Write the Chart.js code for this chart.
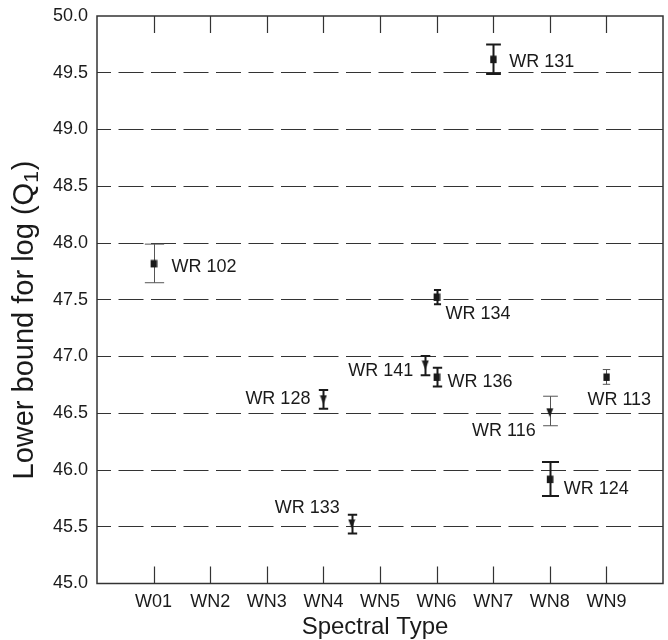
<!DOCTYPE html>
<html>
<head>
<meta charset="utf-8">
<script src="https://cdn.jsdelivr.net/npm/chart.js@4"></script>
<style>
  html, body { margin: 0; padding: 0; background: #fff; }
  #wrap { width: 668px; height: 640px; position: relative; }
</style>
</head>
<body>
<div id="wrap"><canvas id="chart"></canvas></div>
<script>
// spectral types along the x axis (placed at 1..9)
const categories = ['W01', 'WN2', 'WN3', 'WN4', 'WN5', 'WN6', 'WN7', 'WN8', 'WN9'];
const yTicks = [45.0, 45.5, 46.0, 46.5, 47.0, 47.5, 48.0, 48.5, 49.0, 49.5, 50.0];

// stars with a measured value (square markers)
const measNames = ['WR 102', 'WR 134', 'WR 136', 'WR 131', 'WR 124', 'WR 113'];
const measType  = [1, 6, 6, 7, 8, 9];
const measQ     = [47.82, 47.525, 46.82, 49.62, 45.92, 46.82];
const measLow   = [47.65, 47.46, 46.735, 49.49, 45.77, 46.755];
const measHigh  = [47.99, 47.585, 46.90, 49.75, 46.07, 46.885];

// stars with only a limit (down triangles)
const limNames = ['WR 128', 'WR 133', 'WR 141', 'WR 116'];
const limType  = [4, 4.5, 5.8, 8];
const limQ     = [46.62, 45.525, 46.925, 46.505];
const limLow   = [46.54, 45.44, 46.835, 46.39];
const limHigh  = [46.705, 45.605, 47.005, 46.65];

// ---- styling ----
const INK = '#1a1a1a';
const FONT = '"Liberation Sans", Arial, sans-serif';
Chart.defaults.font.family = FONT;
Chart.defaults.color = INK;

const thinBars = ['WR 102', 'WR 113', 'WR 116'];

const labelPlacement = {
  'WR 102': { dx: 18,  dy: 2,   align: 'left' },
  'WR 134': { dx: 9,   dy: 16,  align: 'left' },
  'WR 136': { dx: 11,  dy: 4,   align: 'left' },
  'WR 131': { dx: 16,  dy: 1,   align: 'left' },
  'WR 124': { dx: 14,  dy: 8,   align: 'left' },
  'WR 113': { dx: -19, dy: 22,  align: 'left' },
  'WR 128': { dx: -13, dy: -2,  align: 'right' },
  'WR 133': { dx: -12, dy: -17, align: 'right' },
  'WR 141': { dx: -12, dy: 4,   align: 'right' },
  'WR 116': { dx: -14, dy: 17,  align: 'right' }
};

function markerCanvas(kind) {
  const c = document.createElement('canvas');
  c.width = 8; c.height = 10;
  const g = c.getContext('2d');
  g.fillStyle = INK;
  if (kind === 'square') {
    g.fillRect(1, 1.5, 6.5, 7.5);
  } else {
    g.beginPath();
    g.moveTo(0.5, 0.5);
    g.lineTo(7.5, 0.5);
    g.lineTo(4, 9.5);
    g.closePath();
    g.fill();
  }
  return c;
}

function toPoints(names, xs, ys, lo, hi) {
  return names.map((n, i) => ({ x: xs[i], y: ys[i], name: n, lo: lo[i], hi: hi[i] }));
}

const errorBars = {
  id: 'errorBars',
  beforeDatasetsDraw(chart) {
    const { ctx, scales: { x, y } } = chart;
    ctx.save();
    chart.data.datasets.forEach(ds => {
      ds.data.forEach(p => {
        const px = Math.round(x.getPixelForValue(p.x)) + 0.5;
        const top = y.getPixelForValue(p.hi);
        const bot = y.getPixelForValue(p.lo);
        const half = Math.max(3, (bot - top) / 4);
        const thin = thinBars.includes(p.name);
        ctx.lineWidth = thin ? 1 : 2;
        ctx.strokeStyle = thin ? '#555' : INK;
        ctx.beginPath();
        ctx.moveTo(px, top); ctx.lineTo(px, bot);
        ctx.moveTo(px - half, top); ctx.lineTo(px + half, top);
        ctx.moveTo(px - half, bot); ctx.lineTo(px + half, bot);
        ctx.stroke();
      });
    });
    ctx.restore();
  },
  afterDatasetsDraw(chart) {
    const { ctx, scales: { x, y } } = chart;
    ctx.save();
    ctx.font = '18px ' + FONT;
    ctx.fillStyle = INK;
    ctx.textBaseline = 'alphabetic';
    chart.data.datasets.forEach(ds => {
      ds.data.forEach(p => {
        const pl = labelPlacement[p.name];
        ctx.textAlign = pl.align;
        ctx.fillText(p.name, x.getPixelForValue(p.x) + pl.dx, y.getPixelForValue(p.y) + pl.dy + 6.5);
      });
    });
    ctx.restore();
  }
};

// box around the plot, inward tick marks and axis titles
const frame = {
  id: 'frame',
  afterDraw(chart) {
    const { ctx, chartArea: a, scales: { x } } = chart;
    ctx.save();
    ctx.strokeStyle = '#333';
    ctx.lineWidth = 1.5;
    ctx.strokeRect(a.left, a.top, a.right - a.left, a.bottom - a.top);
    ctx.lineWidth = 1.2;
    ctx.beginPath();
    categories.forEach((c, i) => {
      const px = Math.round(x.getPixelForValue(i + 1)) + 0.5;
      ctx.moveTo(px, a.top); ctx.lineTo(px, a.top + 17);
      ctx.moveTo(px, a.bottom); ctx.lineTo(px, a.bottom - 17);
    });
    ctx.stroke();

    ctx.fillStyle = INK;
    ctx.font = '24px ' + FONT;
    ctx.textAlign = 'center';
    ctx.textBaseline = 'alphabetic';
    ctx.fillText('Spectral Type', (a.left + a.right) / 2 - 5, 634);

    // rotated y title with subscript
    ctx.translate(33, 320);
    ctx.rotate(-Math.PI / 2);
    ctx.textAlign = 'left';
    const main = 'Lower bound for log (Q';
    ctx.font = '29px ' + FONT;
    const w1 = ctx.measureText(main).width;
    const w3 = ctx.measureText(')').width;
    ctx.font = '21px ' + FONT;
    const w2 = ctx.measureText('1').width;
    let sx = -(w1 + w2 + w3 + 1) / 2;
    ctx.font = '29px ' + FONT;
    ctx.fillText(main, sx, 0);
    sx += w1;
    ctx.font = '21px ' + FONT;
    ctx.fillText('1', sx, 5);
    sx += w2 + 1;
    ctx.font = '29px ' + FONT;
    ctx.fillText(')', sx, 0);
    ctx.restore();
  }
};

new Chart(document.getElementById('chart'), {
  type: 'scatter',
  data: {
    datasets: [
      {
        label: 'measured',
        data: toPoints(measNames, measType, measQ, measLow, measHigh),
        pointStyle: markerCanvas('square')
      },
      {
        label: 'limit',
        data: toPoints(limNames, limType, limQ, limLow, limHigh),
        pointStyle: markerCanvas('triangle')
      }
    ]
  },
  options: {
    responsive: true,
    maintainAspectRatio: false,
    animation: false,
    layout: { padding: { top: 16, right: 4.5, left: 0, bottom: 0 } },
    plugins: {
      legend: { display: false },
      tooltip: { enabled: false }
    },
    scales: {
      x: {
        type: 'linear',
        min: 0,
        max: 10,
        afterBuildTicks: s => { s.ticks = [0, ...categories.map((c, i) => i + 1), 10].map(v => ({ value: v })); },
        afterFit: s => { s.height = 56.5; s.paddingLeft = 0; s.paddingRight = 0; },
        ticks: {
          autoSkip: false,
          maxRotation: 0,
          padding: 0,
          font: { size: 18 },
          color: INK,
          callback: v => categories[v - 1] || ''
        },
        grid: { display: false },
        border: { display: false }
      },
      y: {
        min: 45,
        max: 50,
        afterBuildTicks: s => { s.ticks = yTicks.map(v => ({ value: v })); },
        afterFit: s => { s.width = 97; s.paddingTop = 0; s.paddingBottom = 0; },
        ticks: {
          padding: 9,
          font: { size: 18 },
          color: INK,
          callback: v => v.toFixed(1)
        },
        grid: {
          drawTicks: false,
          lineWidth: 1,
          color: c => (c.tick && (c.tick.value === 45 || c.tick.value === 50)) ? 'rgba(0,0,0,0)' : '#333'
        },
        border: { display: false, dash: [25, 7.5], dashOffset: 11 }
      }
    }
  },
  plugins: [errorBars, frame]
});
</script>
</body>
</html>
